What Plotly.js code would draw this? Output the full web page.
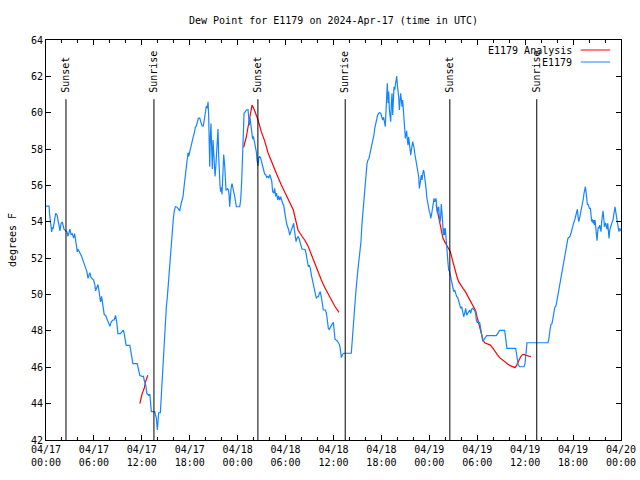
<!DOCTYPE html>
<html><head><meta charset="utf-8">
<script src="https://cdn.plot.ly/plotly-3.0.1.min.js"></script>
<style>html,body{margin:0;padding:0;background:#fff}#chart{width:640px;height:480px}</style>
</head><body><div id="chart"></div>
<script>
// Observed dew point (E1179): hours after 2024-04-17 00:00 UTC, and degrees F
const obsHours = [
0,0.38,0.46,0.71,0.79,0.88,1.04,1.21,1.38,1.46,1.63,1.75,1.88,2.04,2.13,2.25,2.46,2.63,2.75,2.88,3.0,3.13,3.29,3.46,3.58,3.67,3.79,3.92,4.0,4.13,4.29,4.46,4.63,4.79,4.96,5.13,5.25,5.38,5.5,5.63,5.79,5.96,6.13,6.21,6.38,6.5,6.63,6.71,6.83,6.96,7.04,7.17,7.29,7.46,7.63,7.79,8.0,8.17,8.38,8.54,8.71,8.88,9.0,9.33,9.54,9.67,9.79,9.92,10.04,10.5,10.63,10.75,10.88,11.42,11.58,11.75,12.04,12.21,12.29,12.38,12.5,12.63,12.88,
13.0,13.19,13.61,13.82,13.945,14.11,14.32,14.45,14.57,14.7,14.82,14.95,15.07,15.2,15.32,15.45,15.57,15.7,15.82,15.95,16.07,16.2,16.41,16.575,16.74,16.87,17.03,17.16,17.28,17.41,17.53,17.66,17.78,17.87,17.99,18.16,18.33,18.45,18.58,18.7,18.83,18.95,19.08,19.25,19.37,19.54,19.7,19.79,19.91,19.995,20.08,20.21,20.29,20.37,20.41,20.5,20.58,20.66,20.75,20.83,20.915,21.04,21.165,21.25,21.33,21.46,21.54,21.625,21.71,21.79,21.875,21.96,22.04,22.125,22.25,22.375,22.46,22.54,22.63,22.75,22.835,22.92,23.0,23.085,23.17,23.29,23.38,23.5,23.63,23.71,23.84,24.25,24.38,24.5,24.63,24.71,24.8,24.96,25.09,25.3,25.38,25.46,25.55,25.63,25.71,25.8,25.88,25.965,26.05,26.13,26.26,26.34,26.42,26.55,26.63,26.76,26.88,27.01,27.13,27.26,27.38,27.51,27.63,27.76,27.885,28.01,
28.13,28.26,28.38,28.51,28.63,28.76,28.88,29.01,29.13,29.26,29.39,29.51,29.64,29.76,29.89,30.01,30.14,30.26,30.39,30.51,30.64,30.76,30.89,31.01,31.1,31.18,31.31,31.43,31.56,31.68,31.81,31.93,32.06,32.31,32.47,32.6,32.72,32.85,32.97,33.1,33.23,33.35,33.48,33.6,33.73,33.85,33.98,34.1,34.23,34.35,34.48,34.6,34.73,34.98,35.1,35.23,35.35,35.48,35.6,35.73,35.85,35.98,36.1,36.19,36.44,36.69,36.81,36.9,36.98,37.11,37.23,38.23,38.32,38.44,38.57,38.69,38.82,38.94,39.07,39.19,39.32,39.44,39.57,39.69,39.82,39.94,40.07,40.2,40.32,40.45,40.57,40.7,40.82,40.95,41.07,
41.16,41.28,41.41,41.53,41.66,41.78,41.91,42.03,42.16,42.28,42.41,42.49,42.58,42.66,42.74,42.83,42.91,43.0,43.08,43.16,43.245,43.33,43.41,43.5,43.58,43.66,43.75,43.83,43.91,44.0,44.08,44.16,44.25,44.33,44.41,44.5,44.58,44.66,44.75,44.83,44.91,45.0,45.08,45.16,45.25,45.33,45.41,45.5,45.58,45.67,45.75,45.83,45.92,46.0,46.08,46.17,46.25,46.33,46.42,46.5,46.58,46.67,46.75,46.83,46.92,47.0,47.08,47.17,47.25,47.33,47.42,47.5,47.59,47.67,47.75,47.84,47.92,48.0,48.09,48.17,48.25,48.34,48.42,48.5,48.59,48.67,48.75,48.84,48.92,49.0,49.09,49.17,49.25,49.34,49.42,49.5,49.59,49.67,49.76,49.84,49.92,50.0,50.09,50.17,50.26,50.34,50.42,50.55,50.67,50.8,50.92,51.05,51.17,51.3,51.42,51.55,51.68,51.8,51.93,52.05,52.18,52.3,52.43,52.55,52.68,52.8,52.93,53.05,53.18,53.3,53.43,53.55,53.68,53.8,
53.88,54.01,54.3,54.43,54.55,54.68,54.8,54.93,55.05,55.18,56.39,56.6,56.81,57.43,57.52,57.64,57.72,58.81,58.9,59.02,59.14,59.31,59.85,59.98,60.06,60.15,60.23,62.86,62.98,63.11,63.23,63.36,63.48,63.61,63.73,63.86,63.99,64.11,64.24,64.36,64.49,64.61,64.74,64.86,64.99,65.11,65.24,65.36,65.49,65.61,65.75,65.9,66.05,66.2,
66.33,66.45,66.54,66.62,66.71,66.79,66.87,66.96,67.08,67.21,67.29,67.37,67.46,67.54,67.62,67.71,67.79,67.92,68.04,68.17,68.25,68.33,68.42,68.5,68.58,68.67,68.75,68.83,68.92,69.0,69.08,69.17,69.25,69.33,69.42,69.5,69.58,69.67,69.75,69.84,69.92,70.0,70.09,70.17,70.25,70.34,70.42,70.5,70.59,70.67,70.75,70.84,70.92,71.0,71.09,71.17,71.25,71.34,71.42,71.5,71.59,71.67,71.75,71.84,72.0
];
const obsDewPoint = [
54.86,54.86,54.37,53.45,53.7,53.6,54.0,54.46,54.37,54.1,53.8,53.5,53.9,54.0,53.8,53.6,53.5,53.45,53.2,53.45,53.6,53.3,53.35,53.1,53.35,53.1,52.55,52.35,52.5,52.35,52.25,52.1,51.9,51.75,51.55,51.25,50.9,51.05,51.2,50.95,50.9,50.8,50.5,50.2,50.4,50.55,50.2,49.9,49.6,49.9,49.7,49.2,48.9,48.85,48.65,48.5,48.25,48.5,48.6,48.6,48.85,48.4,47.85,47.85,47.95,48.05,47.85,47.4,47.2,47.2,46.85,46.4,46.2,46.2,45.9,45.55,45.5,45.5,45.3,45.2,45.0,44.55,44.45,
44.53,43.56,43.56,43.2,42.55,43.5,43.5,44.6,45.3,46.5,47.6,48.6,49.33,49.9,50.6,51.5,52.36,53.0,53.55,54.2,54.6,54.83,54.8,54.7,54.6,54.9,55.2,55.4,55.9,56.45,57.03,57.4,57.8,57.6,57.86,58.2,58.5,58.7,58.9,59.2,59.27,59.5,59.7,59.7,59.5,59.27,59.27,59.5,59.8,59.97,60.37,60.25,60.6,59.8,57.95,57.03,58.7,59.4,57.95,56.9,58.5,57.4,56.5,56.95,57.6,58.5,59.1,57.6,56.5,56.0,55.66,55.9,55.5,56.3,57.7,57.1,56.3,55.75,55.75,55.84,55.75,55.5,54.83,55.56,55.84,56.1,55.84,55.66,55.4,55.1,54.83,54.83,55.2,56.2,57.8,59.2,59.97,60.06,60.15,60.17,59.8,59.32,59.7,59.4,59.05,58.6,58.55,58.7,58.5,58.45,57.95,57.85,57.4,57.07,57.5,57.6,57.5,57.3,57.1,56.85,56.63,56.6,56.45,56.5,56.4,56.6,
56.45,56.26,55.66,55.57,55.84,55.4,55.57,55.2,55.42,55.2,55.38,55.1,55.0,54.92,54.65,54.2,53.88,53.73,53.55,53.27,53.46,53.64,53.77,53.92,53.55,53.2,52.91,53.09,53.18,53.09,52.91,52.72,52.49,52.49,52.45,52.17,51.7,51.53,51.62,51.44,51.07,50.8,50.71,50.43,50.16,49.79,49.88,49.88,50.07,50.16,49.85,49.52,49.15,49.15,49.0,48.6,48.14,48.08,48.2,48.3,48.4,48.47,48.05,47.54,47.46,47.3,47.13,46.77,46.53,46.68,46.77,46.77,47.22,48.23,48.78,49.52,50.25,50.98,51.44,51.9,52.45,52.91,53.92,54.56,55.3,55.93,56.76,57.22,57.4,57.5,57.77,58.04,58.13,58.4,58.8,
59.14,59.42,59.7,59.87,59.97,60.0,59.97,59.75,59.6,59.75,59.51,59.23,60.15,61.07,61.62,60.52,61.16,60.15,59.7,59.51,60.52,61.07,59.87,60.7,61.43,61.25,61.62,61.76,62.02,61.52,61.25,60.88,60.15,60.52,61.07,60.7,60.33,60.7,60.06,59.23,58.96,58.59,58.78,59.0,58.5,58.22,58.68,58.4,57.86,57.67,57.95,58.22,58.41,58.22,58.1,57.77,57.58,57.4,57.2,56.85,56.67,56.48,55.84,56.12,56.48,56.57,56.3,56.67,56.85,56.76,56.52,56.2,55.84,55.38,55.1,55.02,54.83,54.56,54.47,54.19,54.32,54.56,54.83,55.2,55.29,55.1,55.2,55.29,54.83,54.47,54.74,54.83,54.28,54.0,54.28,54.98,54.47,53.73,53.27,53.64,53.27,53.64,53.0,52.54,52.27,51.72,51.35,51.26,50.98,50.71,50.34,50.16,50.25,49.97,49.9,49.85,49.6,49.42,49.24,49.33,48.97,48.78,48.97,49.24,48.87,48.97,49.06,49.15,48.97,49.2,49.24,49.2,49.12,48.97,
48.6,48.47,48.47,48.14,47.87,47.46,47.5,47.57,47.68,47.74,47.74,47.87,48.03,48.03,47.75,47.4,47.04,47.04,46.77,46.4,46.12,46.03,46.03,46.2,46.77,47.13,47.35,47.35,47.59,48.05,48.36,48.4,48.69,48.87,49.33,49.37,49.7,50.07,50.34,50.5,50.9,51.3,51.6,51.9,52.1,52.5,52.9,53.1,53.15,53.2,53.4,53.7,53.9,54.1,
54.28,54.56,54.69,54.3,54.01,54.15,54.32,54.5,54.65,55.02,55.29,55.57,55.71,55.93,55.65,55.2,54.96,54.93,54.74,54.74,54.47,54.01,54.14,53.92,54.1,53.82,54.1,53.77,53.37,52.96,53.46,53.73,53.64,53.82,53.64,53.46,54.01,54.28,54.61,54.19,53.73,53.82,53.95,53.73,53.59,53.92,53.46,53.09,53.55,53.73,53.82,53.92,54.01,54.1,54.37,54.56,54.83,54.56,54.28,53.92,53.82,53.64,53.46,53.64,53.5
];
// Analysis (null separates the three runs)
const anaHours = [
11.75,12.04,12.29,12.46,12.75,null,
24.75,25.09,25.38,25.63,25.8,26.13,26.55,26.96,27.38,27.8,28.22,28.63,28.93,29.47,30.1,30.72,30.97,31.14,31.35,31.56,31.76,31.97,32.39,32.81,33.23,33.64,34.06,34.48,34.89,35.31,35.73,36.15,36.69,null,
48.85,49.0,49.17,49.3,49.42,49.5,49.71,49.92,50.13,50.42,50.63,50.84,51.05,51.26,51.46,51.67,51.92,52.22,52.51,52.8,53.05,53.34,53.59,53.8,53.97,54.14,54.3,54.51,54.72,54.93,55.35,55.64,55.97,56.31,56.56,56.81,57.14,57.47,57.81,58.14,58.48,58.73,58.9,59.06,59.23,59.44,59.65,59.85,60.06,60.36,60.73
];
const anaDewPoint = [
44.0,44.55,44.83,45.2,45.56,null,
58.1,58.68,59.42,59.97,60.42,60.11,59.6,58.96,58.45,57.8,57.3,56.85,56.57,56.02,55.47,54.92,54.65,54.32,53.92,53.55,53.4,53.27,53.0,52.67,52.17,51.72,51.26,50.8,50.4,50.03,49.7,49.37,49.02,null,
54.95,54.6,54.28,53.9,53.6,53.37,53.09,52.91,52.72,52.54,52.36,51.99,51.62,51.26,50.98,50.71,50.52,50.34,50.16,49.92,49.74,49.52,49.33,49.11,48.78,48.51,48.23,47.96,47.5,47.35,47.28,47.22,47.04,46.86,46.67,46.53,46.4,46.31,46.18,46.09,46.03,45.98,46.09,46.25,46.44,46.58,46.69,46.71,46.67,46.62,46.58
];
const sunEventTimes = ['2024-04-17 02:30','2024-04-17 13:31','2024-04-18 02:32','2024-04-18 13:28','2024-04-19 02:34','2024-04-19 13:27'];
const sunEventLabels = ['Sunset','Sunrise','Sunset','Sunrise','Sunset','Sunrise'];
const tickTimes = ['2024-04-17 00:00','2024-04-17 06:00','2024-04-17 12:00','2024-04-17 18:00','2024-04-18 00:00','2024-04-18 06:00','2024-04-18 12:00','2024-04-18 18:00','2024-04-19 00:00','2024-04-19 06:00','2024-04-19 12:00','2024-04-19 18:00','2024-04-20 00:00'];
const tickLabels = ['04/17<br>00:00','04/17<br>06:00','04/17<br>12:00','04/17<br>18:00','04/18<br>00:00','04/18<br>06:00','04/18<br>12:00','04/18<br>18:00','04/19<br>00:00','04/19<br>06:00','04/19<br>12:00','04/19<br>18:00','04/20<br>00:00'];
const seriesNames = ['E1179 Analysis','E1179'];
const seriesColors = ['#ff0000','#1585ff'];

function toTime(h){
  if (h === null) return null;
  const d = new Date(Date.UTC(2024,3,17) + Math.round(h*3600000));
  const p = n => String(n).padStart(2,'0');
  return d.getUTCFullYear()+'-'+p(d.getUTCMonth()+1)+'-'+p(d.getUTCDate())+' '+p(d.getUTCHours())+':'+p(d.getUTCMinutes())+':'+p(d.getUTCSeconds());
}

const FONT = 'DejaVu Sans Mono, Liberation Mono, monospace';
const traces = [
  {x: anaHours.map(toTime), y: anaDewPoint, type:'scatter', mode:'lines', name: seriesNames[0],
   line:{color: seriesColors[0], width:1.2}, connectgaps:false, showlegend:false},
  {x: obsHours.map(toTime), y: obsDewPoint, type:'scatter', mode:'lines', name: seriesNames[1],
   line:{color: seriesColors[1], width:1.2}, showlegend:false}
];

const shapes = sunEventTimes.map(t => ({type:'line', xref:'x', yref:'paper', x0:t, x1:t, y0:0, y1:0.852, line:{color:'black', width:1}}));
const annotations = sunEventTimes.map((t,i) => ({x:t, xref:'x', y:0.863, yref:'paper', text:sunEventLabels[i], textangle:-90,
  showarrow:false, xanchor:'center', yanchor:'bottom', font:{family:FONT, size:10, color:'black'}}));
// legend (gnuplot style: text right-aligned, sample line to the right)
const legendY = [0.975, 0.945];
seriesNames.forEach((n,i) => {
  annotations.push({x:0.918, xref:'paper', y:legendY[i], yref:'paper', text:n, showarrow:false, xanchor:'right', yanchor:'middle',
    font:{family:FONT, size:10, color:'black'}});
  shapes.push({type:'line', xref:'paper', yref:'paper', x0:0.930, x1:0.981, y0:legendY[i], y1:legendY[i], line:{color:seriesColors[i], width:1}});
});

const layout = {
  width:640, height:480,
  margin:{l:46, r:19, t:40, b:40},
  paper_bgcolor:'white', plot_bgcolor:'white',
  font:{family:FONT, size:10, color:'black'},
  title:{text:'Dew Point for E1179 on 2024-Apr-17 (time in UTC)', font:{family:FONT, size:10, color:'black'}, x:0.5, xref:'paper', y:0.958, yanchor:'middle'},
  xaxis:{type:'date', range:['2024-04-17 00:00','2024-04-20 00:00'], tickmode:'array', tickvals:tickTimes, ticktext:tickLabels,
    ticks:'inside', ticklen:5, tickcolor:'black', showline:true, linecolor:'black', linewidth:1, mirror:'ticks',
    showgrid:false, zeroline:false, tickfont:{family:FONT, size:10, color:'black'},
    minor:{ticks:'inside', ticklen:3, tickcolor:'black', dtick:7200000, tick0:'2024-04-17 00:00', showgrid:false}},
  yaxis:{range:[42,64], tickmode:'linear', tick0:42, dtick:2, ticks:'inside', ticklen:5, tickcolor:'black',
    showline:true, linecolor:'black', linewidth:1, mirror:'ticks', showgrid:false, zeroline:false,
    tickfont:{family:FONT, size:10, color:'black'},
    title:{text:'degrees F', font:{family:FONT, size:10, color:'black'}, standoff:12}},
  shapes: shapes, annotations: annotations, showlegend:false
};
Plotly.newPlot('chart', traces, layout, {staticPlot:true, displayModeBar:false});
</script></body></html>
